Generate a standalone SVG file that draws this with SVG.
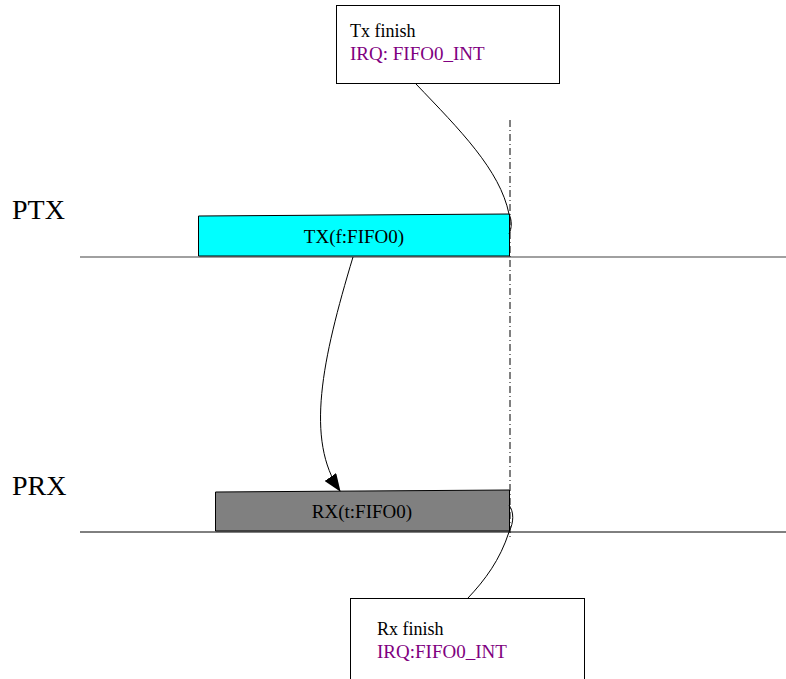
<svg xmlns="http://www.w3.org/2000/svg" width="786" height="679" viewBox="0 0 786 679">
<style>
text{font-family:'Liberation Serif','Times New Roman','DejaVu Serif',serif;fill:#000}
.p{fill:#800080}
.box{fill:#fff;stroke:#000;stroke-width:1}
.c{fill:none;stroke:#000;stroke-width:1}
</style>
<defs>
<marker id="ah" markerWidth="18" markerHeight="14" refX="17" refY="7" orient="auto" markerUnits="userSpaceOnUse">
<path d="M0,0 L18,7 L0,14 Z" fill="#000"/>
</marker>
</defs>
<rect width="786" height="679" fill="#fff"/>
<g id="axes">
<line x1="80" y1="257" x2="786" y2="257" stroke="#808080" stroke-width="1.5"/>
<line x1="80" y1="532" x2="786" y2="532" stroke="#000" stroke-width="1"/>
<text x="12" y="219" font-size="28">PTX</text>
<text x="12" y="495" font-size="28">PRX</text>
</g>
<g id="tx-finish">
<rect class="box" x="336.5" y="5.5" width="223" height="78"/>
<text x="350" y="37" font-size="18">Tx finish</text>
<text class="p" x="350" y="60" font-size="19">IRQ: FIFO0_INT</text>
</g>
<g id="tx">
<path d="M198.5,216 L509.5,214 L509.5,256 L198.5,256 Z" fill="#00ffff" stroke="#000" stroke-width="1"/>
<text x="354" y="243" font-size="19" text-anchor="middle">TX(f:FIFO0)</text>
</g>
<g id="rx">
<path d="M215.5,492 L509.5,490 L509.5,531 L215.5,531 Z" fill="#808080" stroke="#000" stroke-width="1"/>
<text x="362" y="518" font-size="19" text-anchor="middle">RX(t:FIFO0)</text>
</g>
<g id="rx-finish">
<rect class="box" x="350.5" y="598.5" width="234" height="90"/>
<text x="377" y="635" font-size="18">Rx finish</text>
<text class="p" x="377" y="658" font-size="19">IRQ:FIFO0_INT</text>
</g>
<g id="connectors">
<line x1="510" y1="120" x2="510" y2="540" stroke="#000" stroke-width="1" stroke-dasharray="7,3,1,3"/>
<path class="c" d="M416,84 C460,130 500,170 509,214 C512,220 512,228 509,234"/>
<path class="c" d="M353,257 C322,360 305,440 340,491" marker-end="url(#ah)"/>
<path class="c" d="M509,505 C514,512 514,522 509,532 C500,560 485,580 468,598"/>
</g>
</svg>
